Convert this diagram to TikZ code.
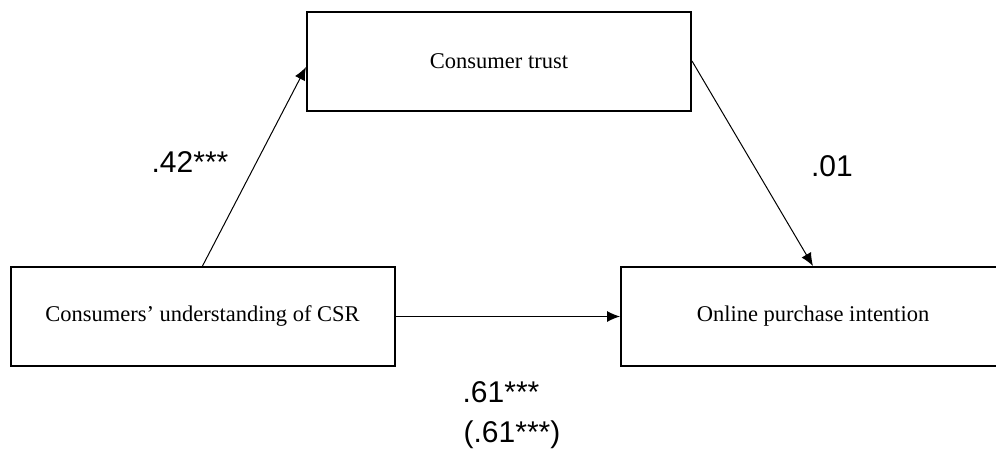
\documentclass[tikz,border=0pt]{standalone}
\usepackage{fontspec}
\setmainfont{Liberation Serif}
\newfontfamily\labelfont{Liberation Sans}
\usetikzlibrary{arrows.meta}
\tikzset{
  varbox/.style={draw, line width=1pt, rectangle, inner sep=0pt, minimum width=192pt, minimum height=49.5pt, font=\fontsize{11.25}{13}\selectfont},
  path/.style={line width=0.5pt, -{Latex[length=6.5pt,width=5.5pt]}},
  coef/.style={font=\labelfont\fontsize{15}{18}\selectfont, inner sep=0pt, align=center}
}
\begin{document}
\begin{tikzpicture}[x=0.5pt,y=-0.5pt]
\useasboundingbox (0,0) rectangle (996,450);
\clip (0,0) rectangle (996,450);
\node[varbox] (trust) at (499,61) {Consumer trust};
\node[varbox] (csr) at (202.5,316.5) {Consumers’ understanding of CSR};
\node[varbox] (opi) at (813,316.5) {Online purchase intention};
\draw[path] (csr.north) -- ([yshift=-3pt]trust.west);
\draw[path] (trust.east) -- (opi.north);
\draw[path] (csr.east) -- (opi.west);
\node[coef] (l1) at (190,162) {.42***};
\node[coef] (l2) at (832,166) {.01};
\node[coef] (l3) at (501,392) {.61***};
\node[coef] (l4) at (512,435) {(.61***)};
\end{tikzpicture}
\end{document}
